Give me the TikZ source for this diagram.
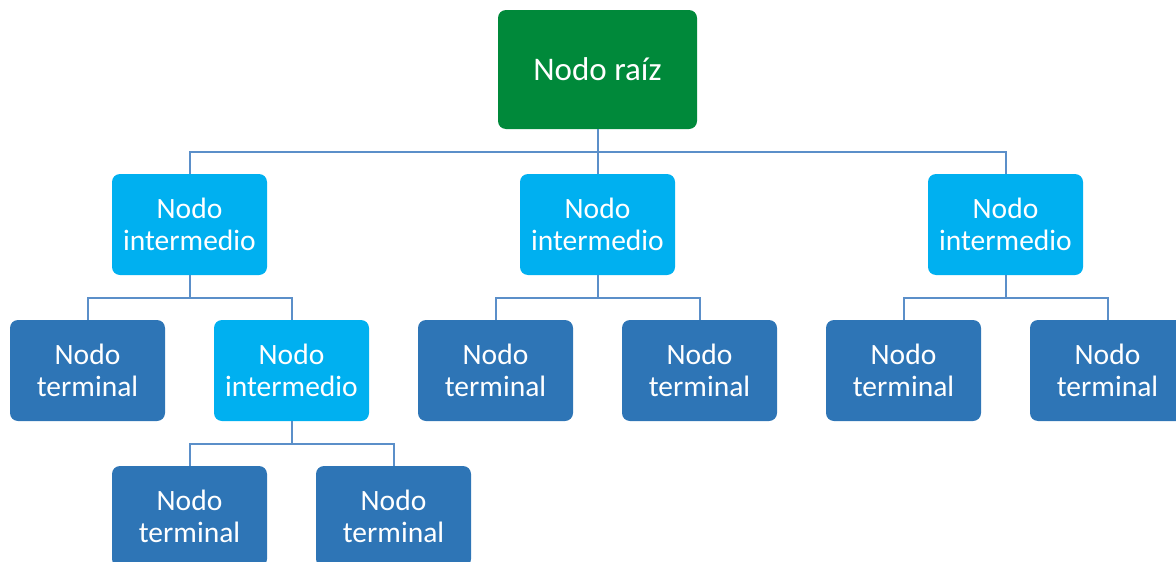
\documentclass[tikz,border=0pt]{standalone}
\usepackage{fontspec}
\setmainfont{Carlito}
\definecolor{rootc}{HTML}{00893A}
\definecolor{midc}{HTML}{00B0F0}
\definecolor{termc}{HTML}{2E75B6}
\definecolor{linec}{HTML}{5B8FC9}
\begin{document}
\begin{tikzpicture}[x=1pt,y=-1pt,
  box/.style={rounded corners=8pt,minimum width=155pt,minimum height=101pt,inner sep=0pt,
    align=center,text=white,font=\fontsize{29.5}{32}\selectfont,draw=none},
  rootbox/.style={box,fill=rootc,minimum width=199pt,minimum height=119pt,font=\fontsize{33}{36}\selectfont},
  midbox/.style={box,fill=midc},
  termbox/.style={box,fill=termc},
  conn/.style={draw=linec,line width=2pt}]
\useasboundingbox (0,0) rectangle (1176,562);
\clip (0,0) rectangle (1176,562);
\node[rootbox] (root) at (597.5,69.5) {Nodo raíz};
\node[midbox] (a) at (189.5,224.5) {Nodo\\intermedio};
\node[midbox] (b) at (597.5,224.5) {Nodo\\intermedio};
\node[midbox] (c) at (1005.5,224.5) {Nodo\\intermedio};
\node[termbox] (t1) at (87.5,370.5) {Nodo\\terminal};
\node[midbox] (i2) at (291.5,370.5) {Nodo\\intermedio};
\node[termbox] (t2) at (495.5,370.5) {Nodo\\terminal};
\node[termbox] (t3) at (699.5,370.5) {Nodo\\terminal};
\node[termbox] (t4) at (903.5,370.5) {Nodo\\terminal};
\node[termbox] (t5) at (1107.5,370.5) {Nodo\\terminal};
\node[termbox] (t6) at (189.5,516.5) {Nodo\\terminal};
\node[termbox] (t7) at (393.5,516.5) {Nodo\\terminal};
\coordinate (j0) at (597.5,152);
\coordinate (j1) at (189.5,298);
\coordinate (j2) at (597.5,298);
\coordinate (j3) at (1005.5,298);
\coordinate (j4) at (291.5,444);
\draw[conn] (root.south) -- (j0);
\draw[conn] (a.north) |- (j0) -| (c.north);
\draw[conn] (j0) -- (b.north);
\draw[conn] (a.south) -- (j1);
\draw[conn] (t1.north) |- (j1) -| (i2.north);
\draw[conn] (b.south) -- (j2);
\draw[conn] (t2.north) |- (j2) -| (t3.north);
\draw[conn] (c.south) -- (j3);
\draw[conn] (t4.north) |- (j3) -| (t5.north);
\draw[conn] (i2.south) -- (j4);
\draw[conn] (t6.north) |- (j4) -| (t7.north);
\end{tikzpicture}
\end{document}
